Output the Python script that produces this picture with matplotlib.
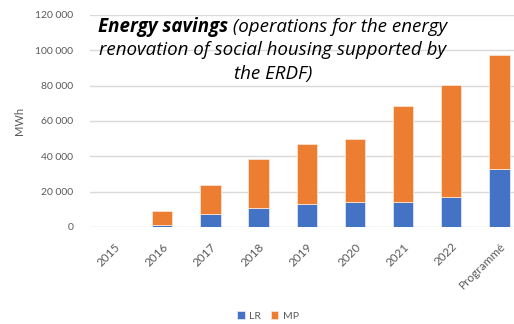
import matplotlib
matplotlib.use("Agg")
import matplotlib.pyplot as plt
from matplotlib.ticker import FuncFormatter

categories = ["2015", "2016", "2017", "2018", "2019", "2020", "2021", "2022", "Programmé"]
lr_values = [0, 1100, 7300, 10800, 13100, 14200, 14200, 16800, 32700]
mp_values = [0, 7800, 16600, 27500, 34000, 35400, 54500, 63700, 64500]
y_ticks = [0, 20000, 40000, 60000, 80000, 100000, 120000]

BLUE = "#4472C4"
ORANGE = "#ED7D31"
GRAY = "#595959"
FONT = ["Lato", "DejaVu Sans"]
TITLE_FONT = ["Open Sans", "DejaVu Sans"]

plt.rcParams["font.family"] = FONT

fig = plt.figure(figsize=(5.14, 3.24), dpi=100)
ax = fig.add_axes([90 / 514, 97 / 324, 433.5 / 514, 212 / 324])

x = list(range(len(categories)))
ax.bar(x, lr_values, width=0.42, color=BLUE, edgecolor="#dfe6f5", linewidth=0.6, label="LR", zorder=3)
ax.bar(x, mp_values, width=0.42, bottom=lr_values, color=ORANGE, edgecolor="#fbe2d2",
       linewidth=0.6, label="MP", zorder=3)

ax.set_xlim(-0.5, len(categories) - 0.5)
ax.set_ylim(0, 120000)
ax.set_yticks(y_ticks)
ax.yaxis.set_major_formatter(FuncFormatter(lambda v, p: f"{int(v):,}".replace(",", " ")))
ax.grid(axis="y", color="#d9d9d9", linewidth=1.0, zorder=0)
for s in ax.spines.values():
    s.set_visible(False)
ax.tick_params(axis="both", length=0, colors=GRAY, labelsize=7.5)
ax.tick_params(axis="y", pad=12)
ax.set_xticks(x)
ax.set_xticklabels(categories, rotation=45, ha="right", rotation_mode="anchor", fontsize=8.5)
ax.tick_params(axis="x", pad=10)
ax.set_ylabel("MWh", color=GRAY, fontsize=8, labelpad=7)

# Title: bold-italic lead followed by italic text, each line centred
title_y = [27, 50, 74]
fs = 13.5
r = fig.canvas.get_renderer()
ta = fig.text(0, 1 - title_y[0] / 324, "Energy savings", fontsize=fs, fontweight="bold",
              fontstyle="italic", family=TITLE_FONT, va="center", ha="left")
tb = fig.text(0, 1 - title_y[0] / 324, " (operations for the energy", fontsize=fs,
              fontstyle="italic", family=TITLE_FONT, va="center", ha="left")
wa = ta.get_window_extent(r).width
wb = tb.get_window_extent(r).width
x0 = 273 - (wa + wb) / 2
ta.set_x(x0 / 514)
tb.set_x((x0 + wa) / 514)
fig.text(273 / 514, 1 - title_y[1] / 324, "renovation of social housing supported by",
         fontsize=fs, fontstyle="italic", family=TITLE_FONT, va="center", ha="center")
fig.text(273 / 514, 1 - title_y[2] / 324, "the ERDF)",
         fontsize=fs, fontstyle="italic", family=TITLE_FONT, va="center", ha="center")

leg = fig.legend(loc="center", bbox_to_anchor=(268 / 514, 1 - 316 / 324), ncol=2, frameon=False,
                 fontsize=7.5, handlelength=0.7, handleheight=0.7, handletextpad=0.4, columnspacing=1.0)
for t in leg.get_texts():
    t.set_color(GRAY)

fig.savefig("out.png", dpi=100)
